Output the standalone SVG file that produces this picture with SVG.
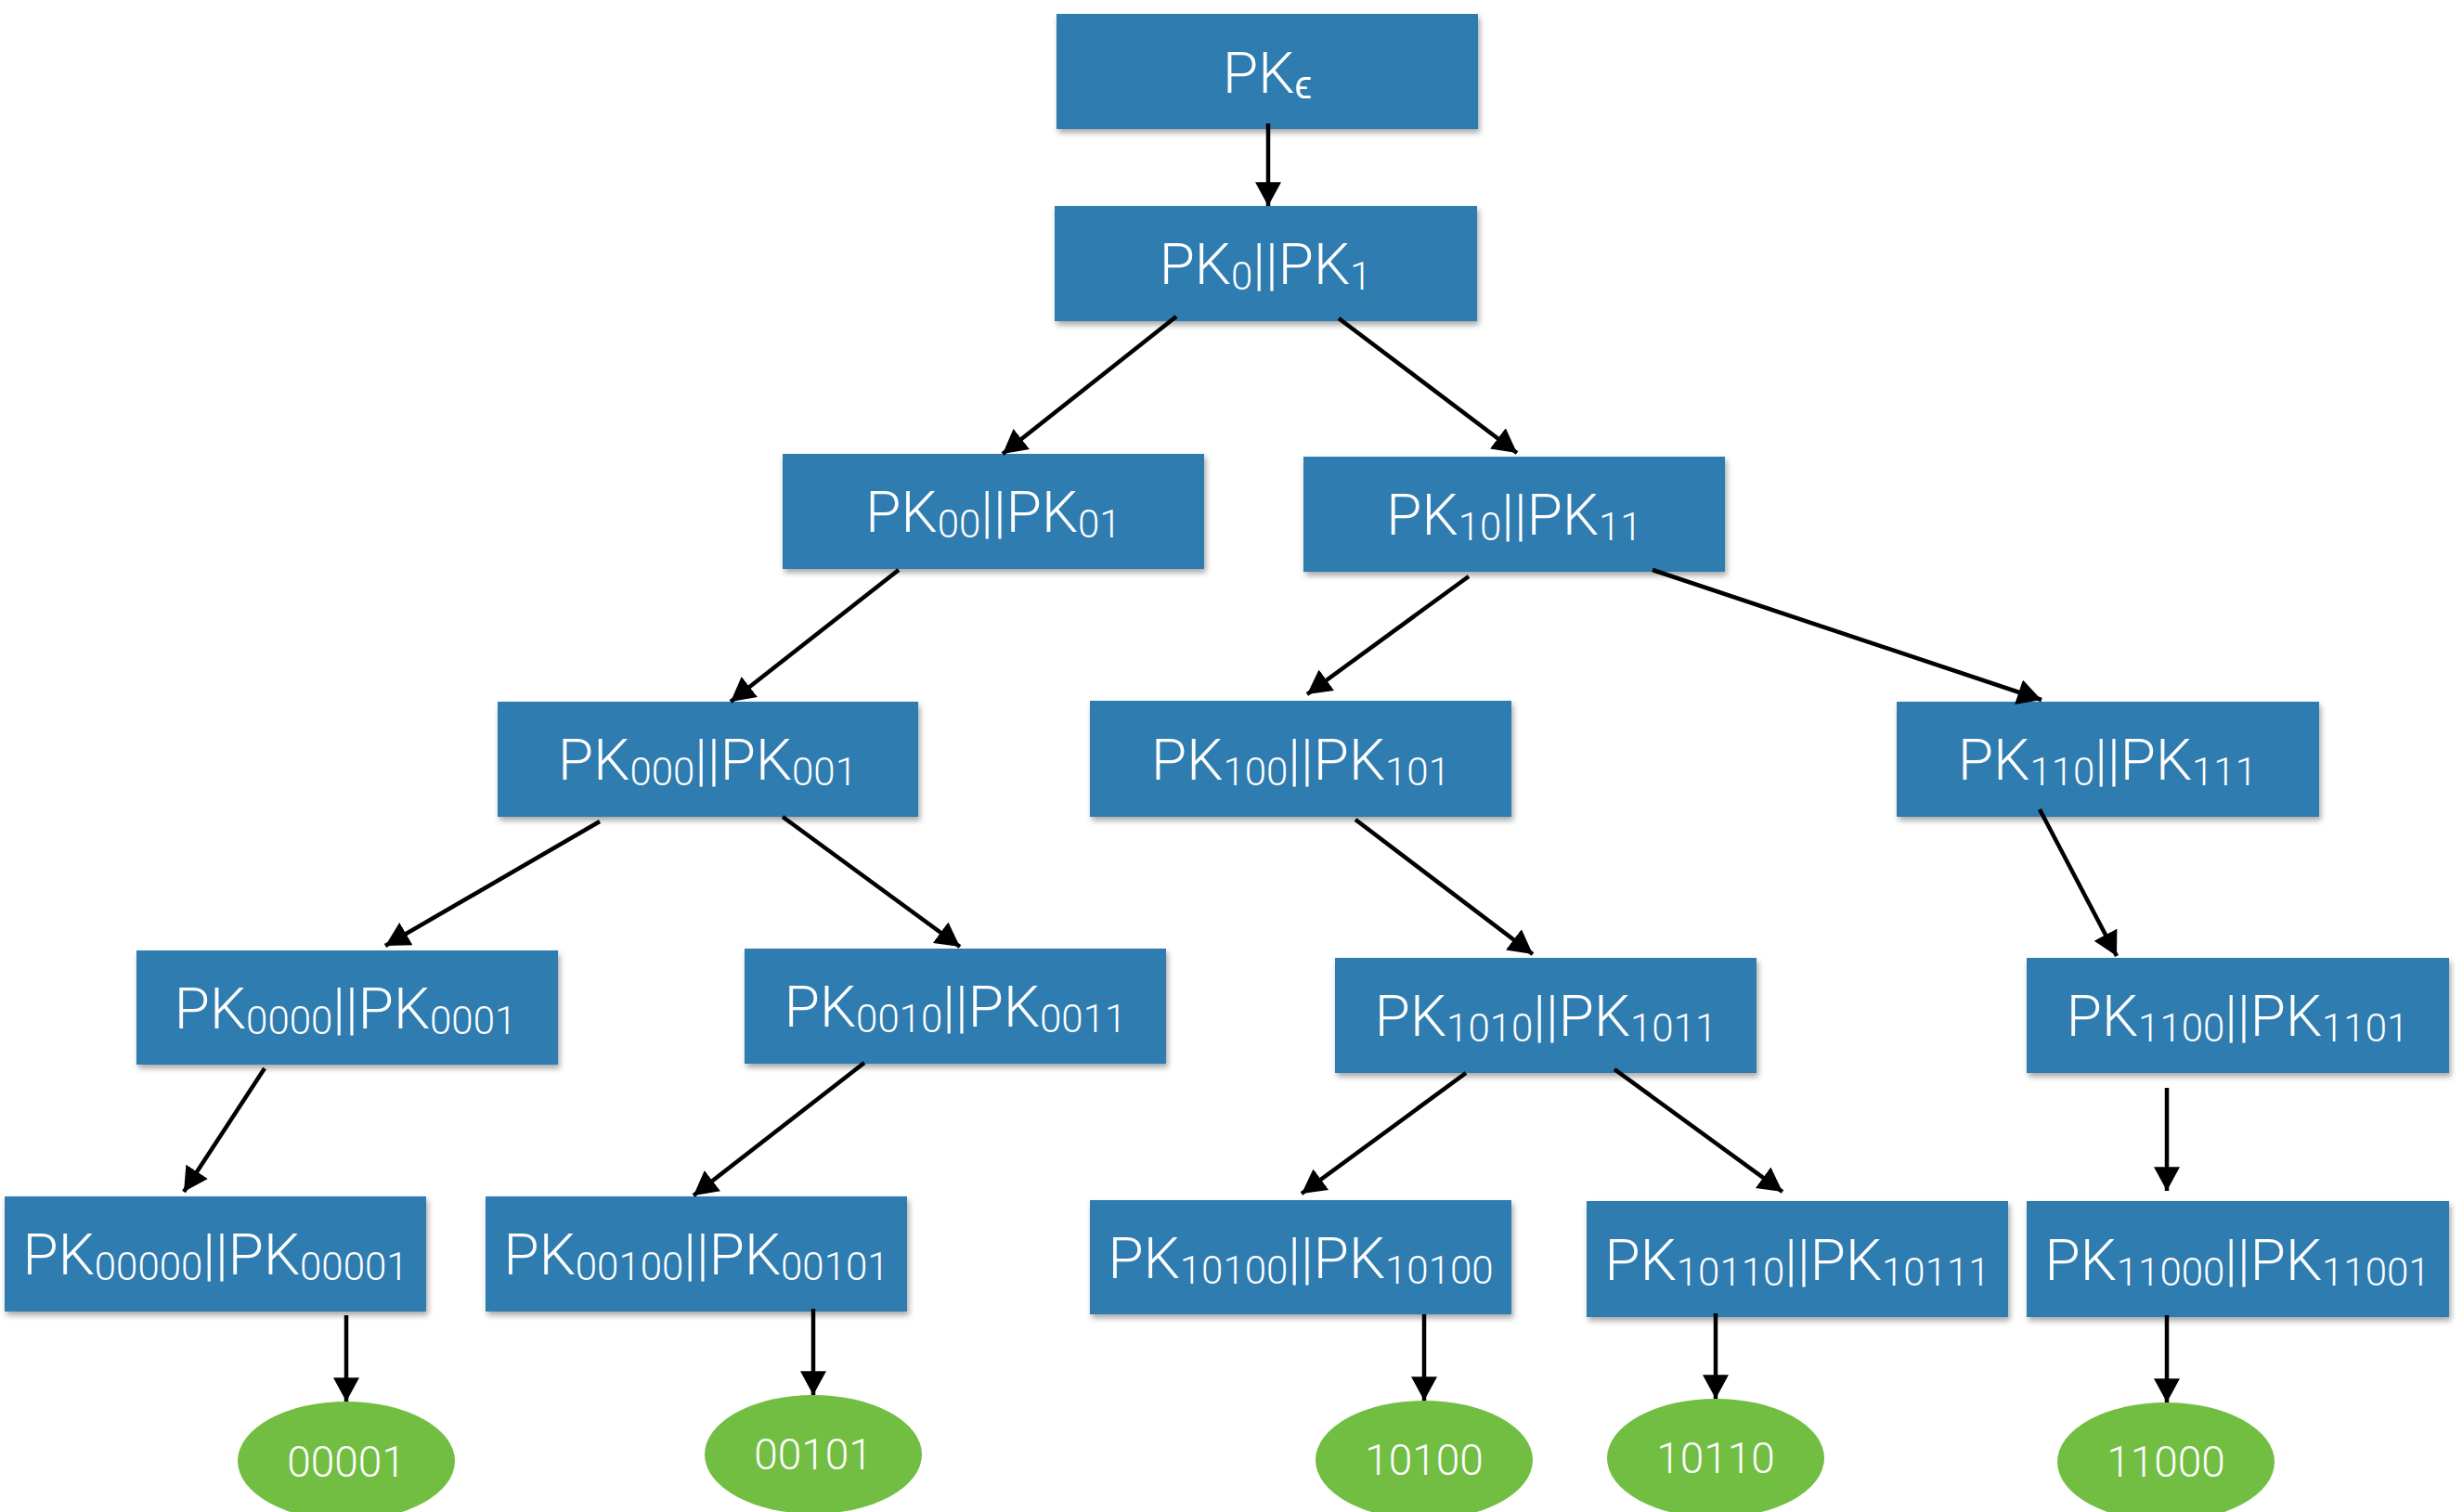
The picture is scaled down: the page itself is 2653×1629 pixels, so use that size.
<svg xmlns="http://www.w3.org/2000/svg" width="2653" height="1629" viewBox="0 0 2653 1629">
<style>
.box{fill:#2f7bb0;filter:url(#sh)}
.leaf{fill:#72be43}
.lbl{font-family:Roboto,"Liberation Sans",sans-serif;font-weight:300;font-size:62px;fill:#fff;text-anchor:middle}
.sub{font-size:42px}
.ltxt{font-family:Roboto,"Liberation Sans",sans-serif;font-weight:300;font-size:46px;fill:#fff;text-anchor:middle}
.con line{stroke:#000;stroke-width:4.5;marker-end:url(#ah)}
</style>
<defs>
<filter id="sh" x="-5%" y="-10%" width="115%" height="130%">
<feDropShadow dx="2" dy="4" stdDeviation="3" flood-color="#000" flood-opacity="0.35"/>
</filter>
<marker id="ah" markerUnits="userSpaceOnUse" markerWidth="26" markerHeight="28" viewBox="0 0 24 26" refX="24" refY="13" orient="auto">
<path d="M0,0 L24,13 L0,26 z" fill="#000"/>
</marker>
</defs>
<rect width="2653" height="1629" fill="#fff"/>

<g id="n-eps"><rect class="box" x="1138" y="15" width="454" height="124"/>
<text class="lbl" x="1365" y="100">PK<tspan class="sub" dy="6">ϵ</tspan></text></g>
<g id="n-0-1"><rect class="box" x="1136" y="222" width="455" height="124"/>
<text class="lbl" x="1363" y="306">PK<tspan class="sub" dy="6">0</tspan><tspan dy="-6">||PK</tspan><tspan class="sub" dy="6">1</tspan></text></g>
<g id="n-00-01"><rect class="box" x="843" y="489" width="454" height="124"/>
<text class="lbl" x="1070" y="573">PK<tspan class="sub" dy="6">00</tspan><tspan dy="-6">||PK</tspan><tspan class="sub" dy="6">01</tspan></text></g>
<g id="n-10-11"><rect class="box" x="1404" y="492" width="454" height="124"/>
<text class="lbl" x="1631" y="576">PK<tspan class="sub" dy="6">10</tspan><tspan dy="-6">||PK</tspan><tspan class="sub" dy="6">11</tspan></text></g>
<g id="n-000-001"><rect class="box" x="536" y="756" width="453" height="124"/>
<text class="lbl" x="762" y="840">PK<tspan class="sub" dy="6">000</tspan><tspan dy="-6">||PK</tspan><tspan class="sub" dy="6">001</tspan></text></g>
<g id="n-100-101"><rect class="box" x="1174" y="755" width="454" height="125"/>
<text class="lbl" x="1401" y="840">PK<tspan class="sub" dy="6">100</tspan><tspan dy="-6">||PK</tspan><tspan class="sub" dy="6">101</tspan></text></g>
<g id="n-110-111"><rect class="box" x="2043" y="756" width="455" height="124"/>
<text class="lbl" x="2270" y="840">PK<tspan class="sub" dy="6">110</tspan><tspan dy="-6">||PK</tspan><tspan class="sub" dy="6">111</tspan></text></g>
<g id="n-0000-0001"><rect class="box" x="147" y="1024" width="454" height="123"/>
<text class="lbl" x="372" y="1108">PK<tspan class="sub" dy="6">0000</tspan><tspan dy="-6">||PK</tspan><tspan class="sub" dy="6">0001</tspan></text></g>
<g id="n-0010-0011"><rect class="box" x="802" y="1022" width="454" height="124"/>
<text class="lbl" x="1029" y="1106">PK<tspan class="sub" dy="6">0010</tspan><tspan dy="-6">||PK</tspan><tspan class="sub" dy="6">0011</tspan></text></g>
<g id="n-1010-1011"><rect class="box" x="1438" y="1032" width="454" height="124"/>
<text class="lbl" x="1665" y="1116">PK<tspan class="sub" dy="6">1010</tspan><tspan dy="-6">||PK</tspan><tspan class="sub" dy="6">1011</tspan></text></g>
<g id="n-1100-1101"><rect class="box" x="2183" y="1032" width="455" height="124"/>
<text class="lbl" x="2410" y="1116">PK<tspan class="sub" dy="6">1100</tspan><tspan dy="-6">||PK</tspan><tspan class="sub" dy="6">1101</tspan></text></g>
<g id="n-00000-00001"><rect class="box" x="5" y="1289" width="454" height="124"/>
<text class="lbl" x="232" y="1373">PK<tspan class="sub" dy="6">00000</tspan><tspan dy="-6">||PK</tspan><tspan class="sub" dy="6">00001</tspan></text></g>
<g id="n-00100-00101"><rect class="box" x="523" y="1289" width="454" height="124"/>
<text class="lbl" x="750" y="1373">PK<tspan class="sub" dy="6">00100</tspan><tspan dy="-6">||PK</tspan><tspan class="sub" dy="6">00101</tspan></text></g>
<g id="n-10100-10100"><rect class="box" x="1174" y="1293" width="454" height="123"/>
<text class="lbl" x="1401" y="1377">PK<tspan class="sub" dy="6">10100</tspan><tspan dy="-6">||PK</tspan><tspan class="sub" dy="6">10100</tspan></text></g>
<g id="n-10110-10111"><rect class="box" x="1709" y="1294" width="454" height="125"/>
<text class="lbl" x="1936" y="1379">PK<tspan class="sub" dy="6">10110</tspan><tspan dy="-6">||PK</tspan><tspan class="sub" dy="6">10111</tspan></text></g>
<g id="n-11000-11001"><rect class="box" x="2183" y="1294" width="455" height="125"/>
<text class="lbl" x="2410" y="1379">PK<tspan class="sub" dy="6">11000</tspan><tspan dy="-6">||PK</tspan><tspan class="sub" dy="6">11001</tspan></text></g>

<g id="leaf-00001"><ellipse class="leaf" cx="373" cy="1574" rx="117" ry="64"/><text class="ltxt" x="373" y="1591">00001</text></g>
<g id="leaf-00101"><ellipse class="leaf" cx="876" cy="1567" rx="117" ry="64"/><text class="ltxt" x="876" y="1583">00101</text></g>
<g id="leaf-10100"><ellipse class="leaf" cx="1534" cy="1573" rx="117" ry="64"/><text class="ltxt" x="1534" y="1589">10100</text></g>
<g id="leaf-10110"><ellipse class="leaf" cx="1848" cy="1571" rx="117" ry="64"/><text class="ltxt" x="1848" y="1587">10110</text></g>
<g id="leaf-11000"><ellipse class="leaf" cx="2333" cy="1575" rx="117" ry="64"/><text class="ltxt" x="2333" y="1591">11000</text></g>

<g id="connectors" class="con">
<line x1="1366" y1="133" x2="1366" y2="222"/>
<line x1="1267" y1="341" x2="1080" y2="489"/>
<line x1="1442" y1="343" x2="1634" y2="488"/>
<line x1="968" y1="614" x2="787" y2="756"/>
<line x1="1582" y1="621" x2="1408" y2="748"/>
<line x1="1780" y1="614" x2="2199" y2="754"/>
<line x1="646" y1="885" x2="415" y2="1019"/>
<line x1="843" y1="880" x2="1034" y2="1020"/>
<line x1="1460" y1="883" x2="1651" y2="1028"/>
<line x1="2197" y1="872" x2="2280" y2="1030"/>
<line x1="285" y1="1151" x2="198" y2="1284"/>
<line x1="931" y1="1145" x2="747" y2="1288"/>
<line x1="1579" y1="1156" x2="1402" y2="1286"/>
<line x1="1739" y1="1152" x2="1920" y2="1284"/>
<line x1="2334" y1="1172" x2="2334" y2="1283"/>
<line x1="373" y1="1417" x2="373" y2="1510"/>
<line x1="876" y1="1410" x2="876" y2="1503"/>
<line x1="1534" y1="1416" x2="1534" y2="1509"/>
<line x1="1848" y1="1415" x2="1848" y2="1507"/>
<line x1="2334" y1="1417" x2="2334" y2="1511"/>
</g>
</svg>
